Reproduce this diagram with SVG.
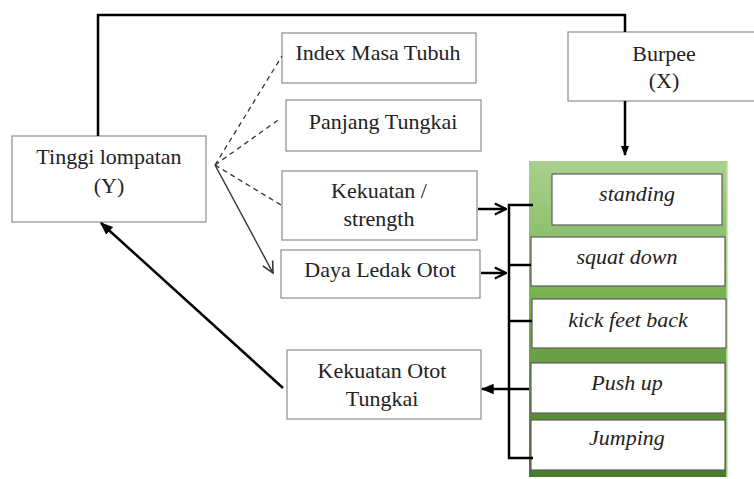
<svg xmlns="http://www.w3.org/2000/svg" width="754" height="479" viewBox="0 0 754 479">
<defs>
<linearGradient id="g" x1="0" y1="0" x2="0" y2="1">
<stop offset="0" stop-color="#a9d18e"/>
<stop offset="0.45" stop-color="#76b04f"/>
<stop offset="1" stop-color="#4b7a2c"/>
</linearGradient>
<marker id="fill" viewBox="0 0 10 10" refX="9" refY="5" markerWidth="10" markerHeight="10" orient="auto" markerUnits="userSpaceOnUse">
<path d="M0,1 L10,5 L0,9 z" fill="#000"/>
</marker>
<marker id="fillL" viewBox="0 0 10 10" refX="9" refY="5" markerWidth="13" markerHeight="13" orient="auto" markerUnits="userSpaceOnUse">
<path d="M0,1 L10,5 L0,9 z" fill="#000"/>
</marker>
<marker id="open" viewBox="0 0 10 10" refX="9" refY="5" markerWidth="14" markerHeight="14" orient="auto" markerUnits="userSpaceOnUse">
<path d="M1,1 L9,5 L1,9" fill="none" stroke="#000" stroke-width="1.6"/>
</marker>
<marker id="openThin" viewBox="0 0 10 10" refX="9" refY="5" markerWidth="14" markerHeight="14" orient="auto" markerUnits="userSpaceOnUse">
<path d="M1,1 L9,5 L1,9" fill="none" stroke="#333" stroke-width="1.1"/>
</marker>
</defs>
<style>
.box{fill:#fff;stroke:#8c8c8c;stroke-width:1.2}
.ibox{fill:#fff;stroke:#5e5e5e;stroke-width:1.2}
.t{font-family:'Liberation Serif','Times New Roman',serif;font-size:22px;fill:#222;text-anchor:middle}
.i{font-style:italic}
.c{fill:none;stroke:#000;stroke-width:2.5}
.d{fill:none;stroke:#333;stroke-width:1.3;stroke-dasharray:5,4}
</style>
<rect width="754" height="479" fill="#fff"/>
<g id="panel">
<rect x="529" y="161" width="198" height="316" fill="url(#g)"/>
<line x1="727" y1="161" x2="727" y2="477" stroke="#b6e39a" stroke-width="1.5"/>
</g>
<g id="standing"><rect class="ibox" x="552" y="174" width="170" height="51"/><text class="t i" x="637" y="201">standing</text></g>
<g id="squat"><rect class="ibox" x="531" y="237" width="194" height="49"/><text class="t i" x="627" y="264">squat down</text></g>
<g id="kick"><rect class="ibox" x="532" y="299" width="194" height="49"/><text class="t i" x="628" y="327">kick feet back</text></g>
<g id="pushup"><rect class="ibox" x="531" y="363" width="194" height="50"/><text class="t i" x="627" y="390">Push up</text></g>
<g id="jumping"><rect class="ibox" x="531" y="420" width="194" height="50"/><text class="t i" x="627" y="445">Jumping</text></g>
<g id="tinggi"><rect class="box" x="12" y="136" width="194" height="86"/><text class="t" x="109" y="164">Tinggi lompatan</text><text class="t" x="109" y="193">(Y)</text></g>
<g id="imt"><rect class="box" x="282" y="33" width="194" height="50"/><text class="t" x="378" y="60">Index Masa Tubuh</text></g>
<g id="panjang"><rect class="box" x="286" y="100" width="195" height="51"/><text class="t" x="383" y="129">Panjang Tungkai</text></g>
<g id="kekuatan"><rect class="box" x="282" y="171" width="195" height="69"/><text class="t" x="379" y="198">Kekuatan /</text><text class="t" x="379" y="226">strength</text></g>
<g id="daya"><rect class="box" x="281" y="250" width="199" height="48"/><text class="t" x="380" y="277">Daya Ledak Otot</text></g>
<g id="kot"><rect class="box" x="287" y="350" width="194" height="69"/><text class="t" x="382" y="378">Kekuatan Otot</text><text class="t" x="382" y="406">Tungkai</text></g>
<g id="burpee"><rect class="box" x="568" y="32" width="194" height="69"/><text class="t" x="664" y="61">Burpee</text><text class="t" x="664" y="88">(X)</text></g>
<g id="connectors">
<polyline class="c" points="98,136 98,15 625,15 625,32"/>
<line class="c" x1="625" y1="101" x2="625" y2="155" marker-end="url(#fill)" stroke-width="2.2"/>
<line class="d" x1="215" y1="165" x2="282" y2="56"/>
<line class="d" x1="215" y1="165" x2="281" y2="118"/>
<line class="d" x1="215" y1="165" x2="281" y2="205"/>
<line x1="215" y1="165" x2="273" y2="273" stroke="#333" stroke-width="1.4" marker-end="url(#openThin)"/>
<line class="c" x1="283" y1="388" x2="101" y2="223" marker-end="url(#fillL)"/>
<line class="c" x1="478" y1="209" x2="506" y2="209" marker-end="url(#open)"/>
<line class="c" x1="481" y1="273" x2="506" y2="273" marker-end="url(#open)"/>
<polyline class="c" points="533,205 509,205 509,458 533,458"/>
<line class="c" x1="509" y1="265" x2="531" y2="265"/>
<line class="c" x1="509" y1="321" x2="532" y2="321"/>
<line class="c" x1="529" y1="389" x2="482" y2="389" marker-end="url(#fillL)"/>
</g>
</svg>
